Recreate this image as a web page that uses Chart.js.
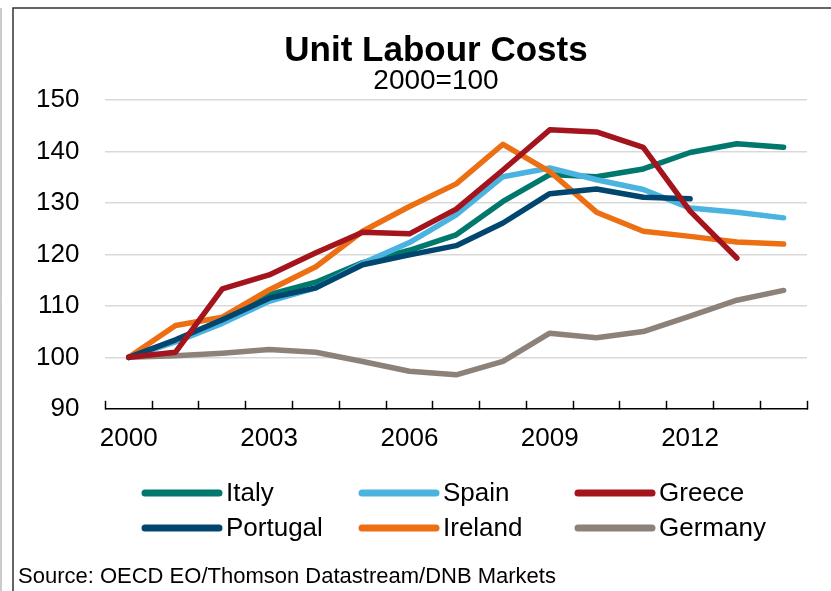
<!DOCTYPE html>
<html>
<head>
<meta charset="utf-8">
<script src="https://cdn.jsdelivr.net/npm/chart.js@4/dist/chart.umd.min.js"></script>
<style>
  html, body { margin: 0; padding: 0; background: #fff; }
  #wrap { position: relative; width: 831px; height: 591px; }
</style>
</head>
<body>
<div id="wrap"><canvas id="chart" width="831" height="591"></canvas></div>
<script>
// data (2000 = 100)
const years = ['2000', '2001', '2002', '2003', '2004', '2005', '2006', '2007', '2008', '2009', '2010', '2011', '2012', '2013', '2014'];
const shownYears = ['2000', '2003', '2006', '2009', '2012'];
const yTicks = [90, 100, 110, 120, 130, 140, 150];

const italy    = [100, 103.2, 107.0, 112.2, 114.6, 118.4, 120.8, 123.8, 130.3, 135.5, 135.1, 136.6, 139.8, 141.5, 140.8];
const spain    = [100, 103.0, 106.6, 110.9, 113.5, 118.3, 122.3, 127.7, 135.1, 136.8, 134.5, 132.6, 129.0, 128.2, 127.1];
const greece   = [100, 101.0, 113.3, 116.0, 120.3, 124.3, 124.0, 128.8, 136.4, 144.2, 143.8, 140.8, 128.4, 119.3, null];
const portugal = [100, 103.4, 107.3, 111.5, 113.5, 118.0, 119.9, 121.7, 126.1, 131.8, 132.7, 131.1, 130.8, null, null];
const ireland  = [100, 106.2, 107.8, 113.1, 117.6, 124.5, 129.3, 133.7, 141.4, 136.1, 128.2, 124.5, 123.5, 122.4, 122.0];
const germany  = [100, 100.3, 100.8, 101.5, 101.0, 99.2, 97.3, 96.6, 99.2, 104.7, 103.8, 105.0, 108.0, 111.1, 113.0];

const title = 'Unit Labour Costs';
const subtitle = '2000=100';
const source = 'Source: OECD EO/Thomson Datastream/DNB Markets';

const FONT = "'Liberation Sans', Arial, sans-serif";
Chart.defaults.font.family = FONT;
Chart.defaults.color = '#000';

function series(label, data, color, order) {
  return {
    label: label, data: data, borderColor: color, backgroundColor: color,
    borderWidth: 5.5, pointRadius: 0, tension: 0, order: order,
    borderCapStyle: 'round', borderJoinStyle: 'round', spanGaps: false
  };
}

// title, legend in a 3 x 2 grid, source and frame lines
const extras = {
  id: 'extras',
  afterDraw(chart) {
    const ctx = chart.ctx;
    ctx.save();
    // frame
    ctx.strokeStyle = '#333';
    ctx.lineWidth = 1.5;
    ctx.beginPath();
    ctx.moveTo(13, 591); ctx.lineTo(13, 8); ctx.lineTo(831, 8);
    ctx.stroke();
    ctx.strokeStyle = '#999';
    ctx.lineWidth = 1;
    ctx.beginPath();
    ctx.moveTo(1, 8); ctx.lineTo(1, 591);
    ctx.stroke();

    // title block, centred on the frame rather than the plot
    ctx.fillStyle = '#000';
    ctx.textAlign = 'center';
    ctx.textBaseline = 'middle';
    ctx.font = 'bold 35px ' + FONT;
    ctx.fillText(title, 436, 51);
    ctx.font = '28px ' + FONT;
    ctx.fillText(subtitle, 436, 81);

    const cols = [145, 362, 578];
    const rows = [493, 528];
    ctx.font = '26px ' + FONT;
    ctx.textAlign = 'left';
    chart.data.datasets.forEach((ds, i) => {
      const x = cols[i % 3], y = rows[Math.floor(i / 3)];
      ctx.strokeStyle = ds.borderColor;
      ctx.lineWidth = 7;
      ctx.lineCap = 'round';
      ctx.beginPath();
      ctx.moveTo(x, y); ctx.lineTo(x + 74, y);
      ctx.stroke();
      ctx.fillText(ds.label, x + 81, y + 1);
    });

    ctx.font = '22px ' + FONT;
    ctx.textBaseline = 'alphabetic';
    ctx.fillText(source, 18, 583);
    ctx.restore();
  }
};

new Chart(document.getElementById('chart'), {
  type: 'line',
  data: {
    labels: years,
    datasets: [
      series('Italy', italy, '#00786E', 4),
      series('Spain', spain, '#4BB3E0', 3),
      series('Greece', greece, '#A3141D', 1),
      series('Portugal', portugal, '#00466E', 2),
      series('Ireland', ireland, '#EC6F13', 2),
      series('Germany', germany, '#8C827A', 5)
    ]
  },
  options: {
    responsive: false,
    animation: false,
    layout: { padding: { left: 10, right: 24, top: 100, bottom: 115 } },
    plugins: {
      legend: { display: false },
      tooltip: { enabled: false },
      title: { display: false }
    },
    scales: {
      x: {
        offset: true,
        grid: {
          offset: true, drawOnChartArea: false, tickLength: -8,
          tickColor: '#000', tickWidth: 1.5
        },
        border: { color: '#000', width: 1.5 },
        ticks: {
          autoSkip: false, maxRotation: 0, padding: 22,
          font: { size: 26 },
          callback: function (v) {
            const lab = this.getLabelForValue(v);
            return shownYears.includes(lab) ? lab : '';
          }
        }
      },
      y: {
        min: 90, max: 150,
        afterBuildTicks: s => { s.ticks = yTicks.map(v => ({ value: v })); },
        grid: {
          drawTicks: false,
          color: ctx => ctx.tick && ctx.tick.value === 90 ? 'rgba(0,0,0,0)' : '#D9D9D9',
          lineWidth: 1.5
        },
        border: { display: false },
        ticks: { padding: 26, font: { size: 26 } }
      }
    }
  },
  plugins: [extras]
});
</script>
</body>
</html>
